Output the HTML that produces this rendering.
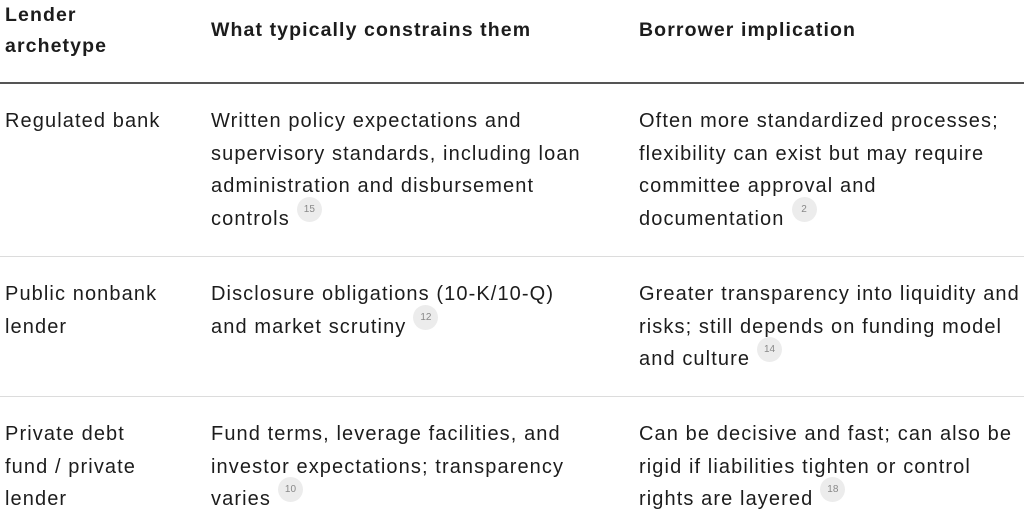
<!DOCTYPE html>
<html><head><meta charset="utf-8"><style>
body{margin:0;width:1024px;height:515px;background:#fff;overflow:hidden;position:relative;font-family:"Liberation Sans",sans-serif;color:#1c1c1c;}
.t{position:absolute;font-size:20px;letter-spacing:1.1px;line-height:32.5px;white-space:nowrap;}
.h{font-weight:bold;font-size:19.5px;letter-spacing:1.1px;line-height:31px;}
.b{display:inline-block;width:25px;height:25px;border-radius:50%;background:#ececec;color:#888;font-size:10px;letter-spacing:0;line-height:25px;text-align:center;vertical-align:top;margin-left:7px;position:relative;top:-6px;}
.l{position:absolute;left:0;width:1024px;}
</style></head><body>
<div class="t h" style="left:5px;top:0px">Lender<br>archetype</div>
<div class="t h" style="left:211px;top:15px">What typically constrains them</div>
<div class="t h" style="left:639px;top:15px">Borrower implication</div>
<div class="l" style="top:82px;height:2px;background:#555"></div>

<div class="t" style="left:5px;top:105px">Regulated bank</div>
<div class="t" style="left:211px;top:105px">Written policy expectations and<br>supervisory standards, including loan<br>administration and disbursement<br>controls<span class="b">15</span></div>
<div class="t" style="left:639px;top:105px">Often more standardized processes;<br>flexibility can exist but may require<br>committee approval and<br>documentation<span class="b">2</span></div>
<div class="l" style="top:256px;height:1px;background:#dcdcdc"></div>

<div class="t" style="left:5px;top:278px">Public nonbank<br>lender</div>
<div class="t" style="left:211px;top:278px">Disclosure obligations (10-K/10-Q)<br>and market scrutiny<span class="b">12</span></div>
<div class="t" style="left:639px;top:278px">Greater transparency into liquidity and<br>risks; still depends on funding model<br>and culture<span class="b">14</span></div>
<div class="l" style="top:396px;height:1px;background:#dcdcdc"></div>

<div class="t" style="left:5px;top:418px">Private debt<br>fund / private<br>lender</div>
<div class="t" style="left:211px;top:418px">Fund terms, leverage facilities, and<br>investor expectations; transparency<br>varies<span class="b">10</span></div>
<div class="t" style="left:639px;top:418px">Can be decisive and fast; can also be<br>rigid if liabilities tighten or control<br>rights are layered<span class="b">18</span></div>
</body></html>
